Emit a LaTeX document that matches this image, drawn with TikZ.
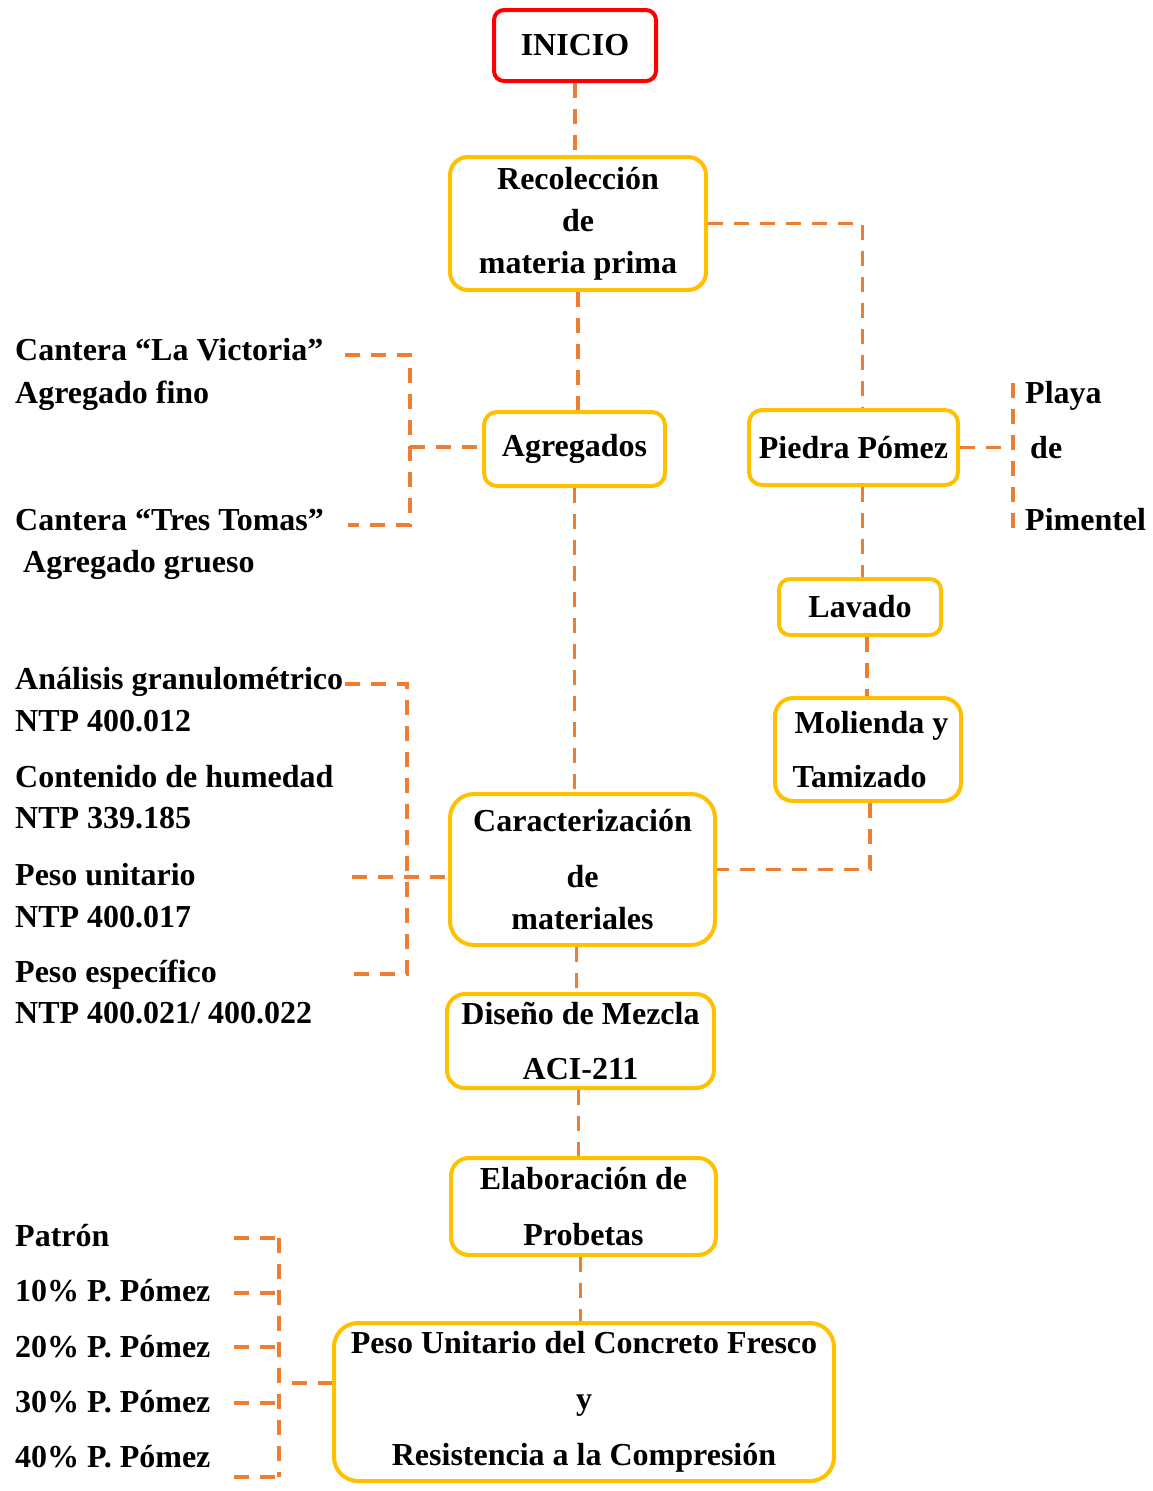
\documentclass[tikz,border=0pt]{standalone}
\usepackage{fontspec}
\setmainfont{Liberation Serif}
\usetikzlibrary{positioning,calc,shadows}
\definecolor{boxyel}{HTML}{FFC000}
\definecolor{linkor}{HTML}{ED7D31}
\definecolor{inired}{HTML}{FF0000}
\tikzset{
  txt/.style   = {font=\fontsize{32}{42}\selectfont\bfseries},
  pbox/.style  = {draw=boxyel, line width=4pt, fill=white, rounded corners=18pt,
                  inner sep=0pt, align=center, txt,
                  drop shadow={opacity=0.18, shadow xshift=1.5pt, shadow yshift=-1.5pt}},
  ibox/.style  = {pbox, draw=inired, rounded corners=10pt},
  link/.style  = {draw=linkor, line width=3.2pt, dash pattern=on 15pt off 11pt},
  lbl/.style   = {txt, anchor=base west, inner sep=0pt},
}
\begin{document}
\begin{tikzpicture}[x=1pt, y=-1pt]
  \fill[white] (0,0) rectangle (1153,1491);
  \useasboundingbox (0,0) rectangle (1153,1491);
  % main column
  \node[ibox, minimum width=162, minimum height=71] (ini) at (575,45.5) {INICIO};
  \node[pbox, minimum width=256, minimum height=133] (recol) at (578,223.5)
    {Recolección\\de\\materia prima};
  \node[pbox, minimum width=181, minimum height=74, rounded corners=13pt] (agreg) at (574.5,449) {Agregados};
  \node[pbox, minimum width=265, minimum height=151, rounded corners=24pt] (carac) at (582.5,869.5)
    {Caracterización\\[14pt]de\\materiales};
  \node[pbox, minimum width=267, minimum height=94] (dis) at (580.5,1041)
    {Diseño de Mezcla\\[13pt]ACI-211};
  \node[pbox, minimum width=265, minimum height=97] (elab) at (583.5,1206.5)
    {Elaboración de\\[14pt]Probetas};
  \node[pbox, minimum width=500, minimum height=158, rounded corners=24pt] (peso) at (584,1402)
    {Peso Unitario del Concreto Fresco\\[14pt]y\\[14pt]Resistencia a la Compresión};
  % right column
  \node[pbox, minimum width=209, minimum height=75, rounded corners=13pt] (pied) at (853.5,447.5) {Piedra Pómez};
  \node[pbox, minimum width=162, minimum height=56, rounded corners=11pt] (lav) at (860,607) {Lavado};
  \node[pbox, minimum width=186, minimum height=103, align=left] (moli) at (868,749.5)
    {\hspace{7pt}Molienda y\\[12pt]\hspace{5pt}Tamizado};
  % side texts
  \node[lbl] (cv1) at (15,360) {Cantera “La Victoria”};
  \node[lbl] (cv2) at (15,403) {Agregado fino};
  \node[lbl] (ct1) at (15,530) {Cantera “Tres Tomas”};
  \node[lbl] (ct2) at (23,572) {Agregado grueso};
  \node[lbl] (an1) at (15,689) {Análisis granulométrico};
  \node[lbl] (an2) at (15,731) {NTP 400.012};
  \node[lbl] (hu1) at (15,787) {Contenido de humedad};
  \node[lbl] (hu2) at (15,828) {NTP 339.185};
  \node[lbl] (pu1) at (15,885) {Peso unitario};
  \node[lbl] (pu2) at (15,927) {NTP 400.017};
  \node[lbl] (pe1) at (15,982) {Peso específico};
  \node[lbl] (pe2) at (15,1023) {NTP 400.021/ 400.022};
  \node[lbl] (pl1) at (1025,403) {Playa};
  \node[lbl] (pl2) at (1030,458) {de};
  \node[lbl] (pl3) at (1025,530) {Pimentel};
  \foreach \t/\y [count=\i] in {Patrón/1246,10\% P. Pómez/1301,20\% P. Pómez/1357,
      30\% P. Pómez/1412,40\% P. Pómez/1467}
    \node[lbl] (mix\i) at (15,\y) {\t};
  % links, main column
  \draw[link] (ini.south) -- (ini.south |- recol.north);
  \draw[link] (recol.south) -- (recol.south |- agreg.north);
  \draw[link] (agreg.south) -- (agreg.south |- carac.north);
  \draw[link] ([xshift=-6pt]carac.south) -- ([xshift=-6pt]carac.south |- dis.north);
  \draw[link] ([xshift=-2pt]dis.south) -- ([xshift=-2pt]dis.south |- elab.north);
  \draw[link] ([xshift=-3pt]elab.south) -- ([xshift=-3pt]elab.south |- peso.north);
  % links, right column
  \draw[link] (recol.east) -| ([xshift=9pt]pied.north);
  \draw[link] ([xshift=9pt]pied.south) -- ([xshift=9pt]pied.south |- lav.north);
  \draw[link] ([xshift=7pt]lav.south) -- ([xshift=7pt]lav.south |- moli.north);
  \draw[link] ([xshift=2pt]moli.south) |- (carac.east);
  \coordinate (pt) at (1013,383);
  \coordinate (pb) at (1013,528);
  \draw[link] (pt) -- (pb);
  \draw[link] (pied.east) -- (pied.east -| pt);
  % brackets, left side
  \coordinate (ca) at (345,355);
  \coordinate (cb) at (348,525);
  \coordinate (cm) at (410,447);
  \draw[link] (ca) -| (cm) |- (cb);
  \draw[link] (cm) -- (cm -| agreg.west);
  \coordinate (aa) at (345,684);
  \coordinate (ab) at (346,974);
  \draw[link] (aa) -| (407,877) |- (ab);
  \coordinate (ac) at (352,877);
  \draw[link] (ac) -- (ac -| carac.west);
  \coordinate (mt) at (279,1238);
  \coordinate (mb) at (279,1477);
  \draw[link] (mt) -- (mb);
  \foreach \y in {1238,1293,1347,1403,1477}
    \draw[link] (234,\y) -- (279,\y);
  \coordinate (mc) at (292,1383);
  \draw[link] (mc) -- (mc -| peso.west);
\end{tikzpicture}
\end{document}
